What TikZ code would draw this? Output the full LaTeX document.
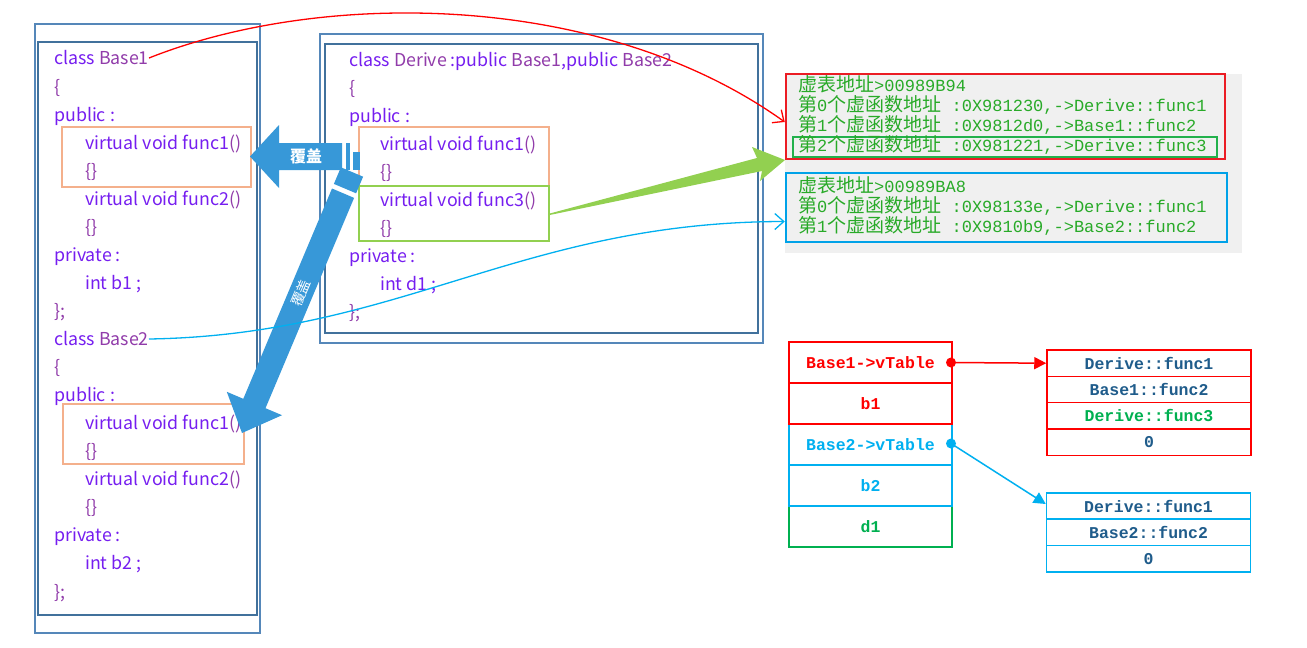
\documentclass[tikz,border=0pt]{standalone}
\usepackage{fontspec}
\setmainfont{Noto Sans CJK SC}
\newfontfamily\cjkf{Noto Sans CJK SC}
\newfontfamily\monof{Liberation Mono}
\usetikzlibrary{arrows.meta}
\definecolor{kw}{RGB}{118,30,240}
\definecolor{pn}{RGB}{145,60,170}
\definecolor{frame}{RGB}{65,113,156}
\definecolor{frameo}{RGB}{85,135,185}
\definecolor{salmon}{RGB}{244,176,140}
\definecolor{lgreen}{RGB}{146,208,80}
\definecolor{arrblue}{RGB}{55,152,216}
\definecolor{cred}{RGB}{235,28,36}
\definecolor{cblue}{RGB}{0,162,232}
\definecolor{cgreen}{RGB}{34,177,76}
\definecolor{congreen}{RGB}{40,170,40}
\definecolor{tred}{RGB}{255,0,0}
\definecolor{tblue}{RGB}{0,176,240}
\definecolor{tgreen}{RGB}{0,176,80}
\definecolor{tdark}{RGB}{31,92,139}
\definecolor{cgrey}{RGB}{240,240,240}
\newcommand{\zhc}[1]{{\cjkf\fontsize{19}{20}\selectfont #1}}
\newcommand{\zmo}[1]{{\monof\fontsize{17}{20}\selectfont #1}}
\begin{document}
\begin{tikzpicture}[x=1pt,y=-1pt,
  code/.style={anchor=west, inner sep=0pt, text=kw, font=\fontsize{17.8}{19}\selectfont, text height=14pt, text depth=2pt},
  con/.style={anchor=west, inner sep=0pt, text=congreen, text height=14pt, text depth=4pt},
  fbox/.style={draw=salmon, line width=1.5pt, inner sep=0pt},
  cbox/.style={line width=2.5pt, inner sep=0pt},
  lcell/.style={draw, line width=1.5pt, minimum width=163pt, minimum height=41pt, inner sep=0pt, font=\monof\bfseries\fontsize{16.5}{18}\selectfont},
  rcell/.style={draw, line width=1.5pt, minimum width=204pt, minimum height=26.3pt, inner sep=0pt, text=tdark, font=\monof\bfseries\fontsize{16.5}{18}\selectfont},
  dot/.style={circle, inner sep=0pt, minimum size=10pt},
  curvearrow/.style={line width=1.3pt, -{Straight Barb[length=9pt,width=16pt]}},
  tblarrow/.style={line width=1.5pt, -{Triangle[length=12pt,width=12pt]}},
  wlabel/.style={text=white, inner sep=0pt}
]
\useasboundingbox (0,0) rectangle (1307,648);
\fill[white] (0,0) rectangle (1307,648);

% ---------- left panel ----------
\draw[frameo, line width=1.5pt] (35,24) rectangle (260,633);
\draw[frame, line width=2pt] (38,42) rectangle (257,615);
\node[fbox, minimum width=189pt, minimum height=60pt] (o1) at (156.5,157) {};
\node[fbox, minimum width=181pt, minimum height=60pt] (o2) at (153.5,434) {};

\node[code] (cb1) at (54,58) {class \textcolor{pn}{Base1}};
\node[code] (l2) at (54,87) {\textcolor{pn}{\{}};
\node[code] (l3) at (54,115) {public :};
\node[code] (l4) at (85,143) {virtual void func1\textcolor{pn}{()}};
\node[code] (l5) at (85,171) {\textcolor{pn}{\{\}}};
\node[code] (l6) at (85,199) {virtual void func2\textcolor{pn}{()}};
\node[code] (l7) at (85,227) {\textcolor{pn}{\{\}}};
\node[code] (l8) at (54,255) {private :};
\node[code] (l9) at (85,283) {int b1 ;};
\node[code] (l10) at (54,311) {\textcolor{pn}{\};}};
\node[code] (cb2) at (54,339) {class \textcolor{pn}{Base2}};
\node[code] (l12) at (54,367) {\textcolor{pn}{\{}};
\node[code] (l13) at (54,395) {public :};
\node[code] (l14) at (85,423) {virtual void func1\textcolor{pn}{()}};
\node[code] (l15) at (85,451) {\textcolor{pn}{\{\}}};
\node[code] (l16) at (85,479) {virtual void func2\textcolor{pn}{()}};
\node[code] (l17) at (85,507) {\textcolor{pn}{\{\}}};
\node[code] (l18) at (54,535) {private :};
\node[code] (l19) at (85,563) {int b2 ;};
\node[code] (l20) at (54,592) {\textcolor{pn}{\};}};

% ---------- middle panel ----------
\draw[frameo, line width=1.5pt] (320,34) rectangle (763,343);
\draw[frame, line width=2pt] (325,44) rectangle (758,333);
\node[fbox, minimum width=190pt, minimum height=59pt] (o3) at (454,156.5) {};
\node[draw=lgreen, line width=1.5pt, inner sep=0pt, minimum width=190pt, minimum height=55pt] (g3) at (454,213.5) {};

\node[code] (m1) at (349,60) {class \textcolor{pn}{Derive} :public \textcolor{pn}{Base1},public \textcolor{pn}{Base2}};
\node[code] (m2) at (349,88) {\textcolor{pn}{\{}};
\node[code] (m3) at (349,116) {public :};
\node[code] (m4) at (380,144) {virtual void func1\textcolor{pn}{()}};
\node[code] (m5) at (380,172) {\textcolor{pn}{\{\}}};
\node[code] (m6) at (380,200) {virtual void func3\textcolor{pn}{()}};
\node[code] (m7) at (380,228) {\textcolor{pn}{\{\}}};
\node[code] (m8) at (349,256) {private :};
\node[code] (m9) at (380,284) {int d1 ;};
\node[code] (m10) at (349,312) {\textcolor{pn}{\};}};

% ---------- console ----------
\fill[cgrey] (785,74) rectangle (1242,253);
\node[cbox, draw=cred, minimum width=439pt, minimum height=85pt] (vt1) at (1005.5,116.5) {};
\node[cbox, draw=cgreen, minimum width=424pt, minimum height=20pt] (vt3) at (1005,147) {};
\node[cbox, draw=cblue, minimum width=441pt, minimum height=69pt] (vt2) at (1006.5,207.5) {};

\node[con] (c1) at (798,86) {\zhc{虚表地址}\zmo{>00989B94}};
\node[con] (c2) at (798,106) {\zhc{第}\zmo{0}\zhc{个虚函数地址}\zmo{ :0X981230,->Derive::func1}};
\node[con] (c3) at (798,126) {\zhc{第}\zmo{1}\zhc{个虚函数地址}\zmo{ :0X9812d0,->Base1::func2}};
\node[con] (c4) at (798,146) {\zhc{第}\zmo{2}\zhc{个虚函数地址}\zmo{ :0X981221,->Derive::func3}};
\node[con] (c5) at (798,187) {\zhc{虚表地址}\zmo{>00989BA8}};
\node[con] (c6) at (798,207) {\zhc{第}\zmo{0}\zhc{个虚函数地址}\zmo{ :0X98133e,->Derive::func1}};
\node[con] (c7) at (798,227) {\zhc{第}\zmo{1}\zhc{个虚函数地址}\zmo{ :0X9810b9,->Base2::func2}};

% ---------- object layout ----------
\node[lcell, draw=tgreen, text=tgreen] (s5) at (870.5,526.5) {d1};
\node[lcell, draw=tblue, text=tblue] (s4) at (870.5,485.5) {b2};
\node[lcell, draw=tblue, text=tblue] (s3) at (870.5,444.5) {Base2->vTable};
\node[lcell, draw=tred, text=tred] (s2) at (870.5,403.5) {b1};
\node[lcell, draw=tred, text=tred] (s1) at (870.5,362.5) {Base1->vTable};

\node[rcell, draw=tred] (t1a) at (1149,363.2) {Derive::func1};
\node[rcell, draw=tred] (t1b) at (1149,389.5) {Base1::func2};
\node[rcell, draw=tred, text=tgreen] (t1c) at (1149,415.8) {Derive::func3};
\node[rcell, draw=tred] (t1d) at (1149,442.1) {0};

\node[rcell, draw=tblue] (t2a) at (1148.5,506) {Derive::func1};
\node[rcell, draw=tblue] (t2b) at (1148.5,532.3) {Base2::func2};
\node[rcell, draw=tblue] (t2c) at (1148.5,558.6) {0};

\node[dot, fill=tred] (dt1) at (951,362.5) {};
\node[dot, fill=tblue] (dt2) at (951,443.5) {};
\draw[tred, tblarrow] (dt1.center) -- (t1a.west);
\draw[tblue, tblarrow] (dt2.center) -- ([yshift=2pt]t2a.west);

% ---------- big arrows ----------
\fill[lgreen] (g3.east) -- (757,158) -- (752,147) -- (785,160) -- (760,181) -- (762,171) -- ([yshift=-1.5pt]g3.east) -- cycle;

\fill[arrblue] (250,156.5) -- (279,125) -- (279,143) -- (342,143) -- (342,170) -- (279,170) -- (279,188) -- cycle;
\fill[arrblue] (346,143) rectangle (350,170);
\fill[arrblue] (353,152) rectangle (360,170);
\node[wlabel, font=\cjkf\bfseries\fontsize{16}{16}\selectfont] (lab1) at (306,156) {覆盖};

\fill[arrblue] (242,433) -- (226.8,391.8) -- (243.3,398.8) -- (332.0,188.5) -- (354.1,197.9) -- (265.5,408.2) -- (282.0,415.2) -- cycle;
\fill[arrblue] (340.9,167.3) -- (363.1,176.7) -- (356.1,193.3) -- (333.9,183.9) -- cycle;
\node[wlabel, rotate=67, font=\cjkf\fontsize{14}{14}\selectfont] (lab2) at (301,293) {覆盖};

% ---------- curves ----------
\draw[tred, curvearrow] (cb1.east) .. controls (320,-10) and (600,-10) .. ([yshift=-5.5pt]vt1.west);
\draw[tblue, curvearrow] (cb2.east) .. controls (400,335) and (520,222) .. ([yshift=-14pt]vt2.west);
\end{tikzpicture}
\end{document}
